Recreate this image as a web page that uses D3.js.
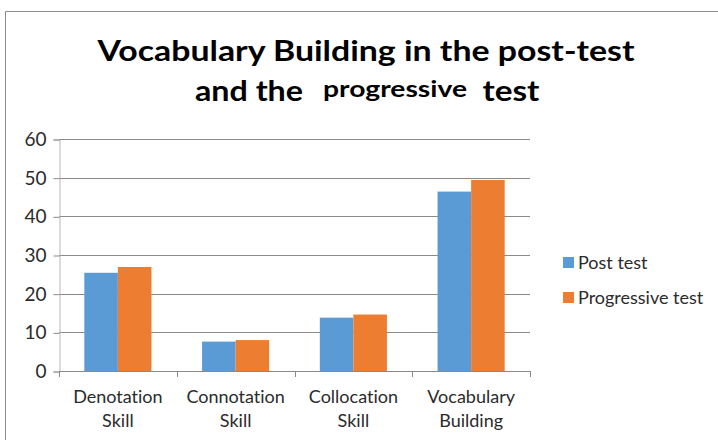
<!DOCTYPE html>
<html>
<head>
<meta charset="utf-8">
<script src="https://cdn.jsdelivr.net/npm/d3@7"></script>
<style>
  html, body { margin: 0; padding: 0; background: #fff; }
  svg { display: block; font-family: Lato, "Open Sans", sans-serif; font-variant-ligatures: none; }
</style>
</head>
<body>
<div id="chart"></div>
<script>
// Grouped bar chart: post test vs progressive test per vocabulary skill.
const categories = [['Denotation', 'Skill'], ['Connotation', 'Skill'], ['Collocation', 'Skill'], ['Vocabulary', 'Building']];
const seriesNames = ['Post test', 'Progressive test'];
const postTest = [25.4, 7.6, 13.8, 46.4];
const progressiveTest = [26.9, 8.0, 14.6, 49.4];
const yTicks = [0, 10, 20, 30, 40, 50, 60];
const colors = ['#5B9BD5', '#ED7D31'];

(function () {
    const width = 718, height = 440;
    const textColor = '#2b2b2b';
    const svg = d3.select('#chart').append('svg')
        .attr('width', width)
        .attr('height', height);

    // chart frame (top and left edges visible)
    svg.append('path')
        .attr('d', `M5.5,${height} V11.5 H${width}`)
        .attr('fill', 'none')
        .attr('stroke', '#8c8c8c')
        .attr('stroke-width', 1);

    // title
    const title = svg.append('g').attr('fill', '#000').attr('font-weight', 'bold');
    title.append('text')
        .attr('x', 366).attr('y', 61)
        .attr('text-anchor', 'middle')
        .attr('font-size', 29)
        .attr('textLength', 537).attr('lengthAdjust', 'spacingAndGlyphs')
        .text('Vocabulary Building in the post-test');
    title.append('text')
        .attr('x', 249).attr('y', 101)
        .attr('text-anchor', 'middle')
        .attr('font-size', 29)
        .attr('textLength', 108).attr('lengthAdjust', 'spacingAndGlyphs')
        .text('and the');
    title.append('text')
        .attr('x', 395).attr('y', 97)
        .attr('text-anchor', 'middle')
        .attr('font-size', 22)
        .attr('textLength', 144).attr('lengthAdjust', 'spacingAndGlyphs')
        .text('progressive');
    title.append('text')
        .attr('x', 511).attr('y', 101)
        .attr('text-anchor', 'middle')
        .attr('font-size', 29)
        .attr('textLength', 57).attr('lengthAdjust', 'spacingAndGlyphs')
        .text('test');

    const plot = { left: 59, right: 530, top: 139, bottom: 371 };

    const x = d3.scaleBand()
        .domain(d3.range(categories.length))
        .range([plot.left, plot.right])
        .paddingInner(0.43)
        .paddingOuter(0.215);
    const xInner = d3.scaleBand()
        .domain(d3.range(seriesNames.length))
        .range([0, x.bandwidth()]);
    const y = d3.scaleLinear().domain([0, 60]).range([plot.bottom, plot.top]);

    // gridlines
    svg.append('g')
        .selectAll('line')
        .data(yTicks.filter(d => d > 0))
        .join('line')
        .attr('x1', plot.left).attr('x2', plot.right)
        .attr('y1', d => Math.round(y(d)) + 0.5).attr('y2', d => Math.round(y(d)) + 0.5)
        .attr('stroke', '#8a8a8a')
        .attr('stroke-width', 1);

    // y axis
    const yAxis = svg.append('g')
        .attr('transform', `translate(${plot.left + 0.5},0.5)`)
        .call(d3.axisLeft(y).tickValues(yTicks).tickSize(6).tickPadding(7));
    yAxis.select('.domain').attr('stroke', '#b5b5b5');
    yAxis.selectAll('.tick line').attr('stroke', '#8a8a8a');
    yAxis.selectAll('.tick text')
        .attr('font-size', 19)
        .attr('font-family', 'Lato, sans-serif')
        .attr('fill', textColor);

    // bars
    const values = [postTest, progressiveTest];
    const groups = svg.append('g')
        .selectAll('g')
        .data(categories.map((c, i) => i))
        .join('g')
        .attr('transform', i => `translate(${x(i)},0)`);
    groups.selectAll('rect')
        .data(i => values.map((s, j) => ({ s: j, v: s[i] })))
        .join('rect')
        .attr('x', d => xInner(d.s))
        .attr('y', d => y(d.v))
        .attr('width', xInner.bandwidth())
        .attr('height', d => y(0) - y(d.v))
        .attr('fill', d => colors[d.s]);

    // x axis line and boundary ticks
    const step = (plot.right - plot.left) / categories.length;
    svg.append('line')
        .attr('x1', plot.left).attr('x2', plot.right)
        .attr('y1', plot.bottom + 0.5).attr('y2', plot.bottom + 0.5)
        .attr('stroke', '#8a8a8a');
    svg.append('g')
        .selectAll('line')
        .data(d3.range(categories.length + 1))
        .join('line')
        .attr('x1', i => Math.round(plot.left + i * step) + 0.5)
        .attr('x2', i => Math.round(plot.left + i * step) + 0.5)
        .attr('y1', plot.bottom).attr('y2', plot.bottom + 6)
        .attr('stroke', '#8a8a8a');

    // category labels (two lines)
    const labels = svg.append('g')
        .selectAll('text')
        .data(categories.map((c, i) => i))
        .join('text')
        .attr('text-anchor', 'middle')
        .attr('font-size', 18)
        .attr('fill', textColor)
        .attr('transform', i => `translate(${x(i) + x.bandwidth() / 2},0)`);
    labels.append('tspan').attr('x', 0).attr('y', 403).text(i => categories[i][0]);
    labels.append('tspan').attr('x', 0).attr('y', 427).text(i => categories[i][1]);

    // legend
    const legend = svg.append('g')
        .selectAll('g')
        .data(seriesNames)
        .join('g')
        .attr('transform', (d, i) => `translate(563,${257 + i * 35})`);
    legend.append('rect')
        .attr('width', 11).attr('height', 11)
        .attr('fill', (d, i) => colors[i]);
    legend.append('text')
        .attr('x', 15).attr('y', 12)
        .attr('font-size', 18)
        .attr('fill', textColor)
        .text(d => d);
})();
</script>
</body>
</html>
